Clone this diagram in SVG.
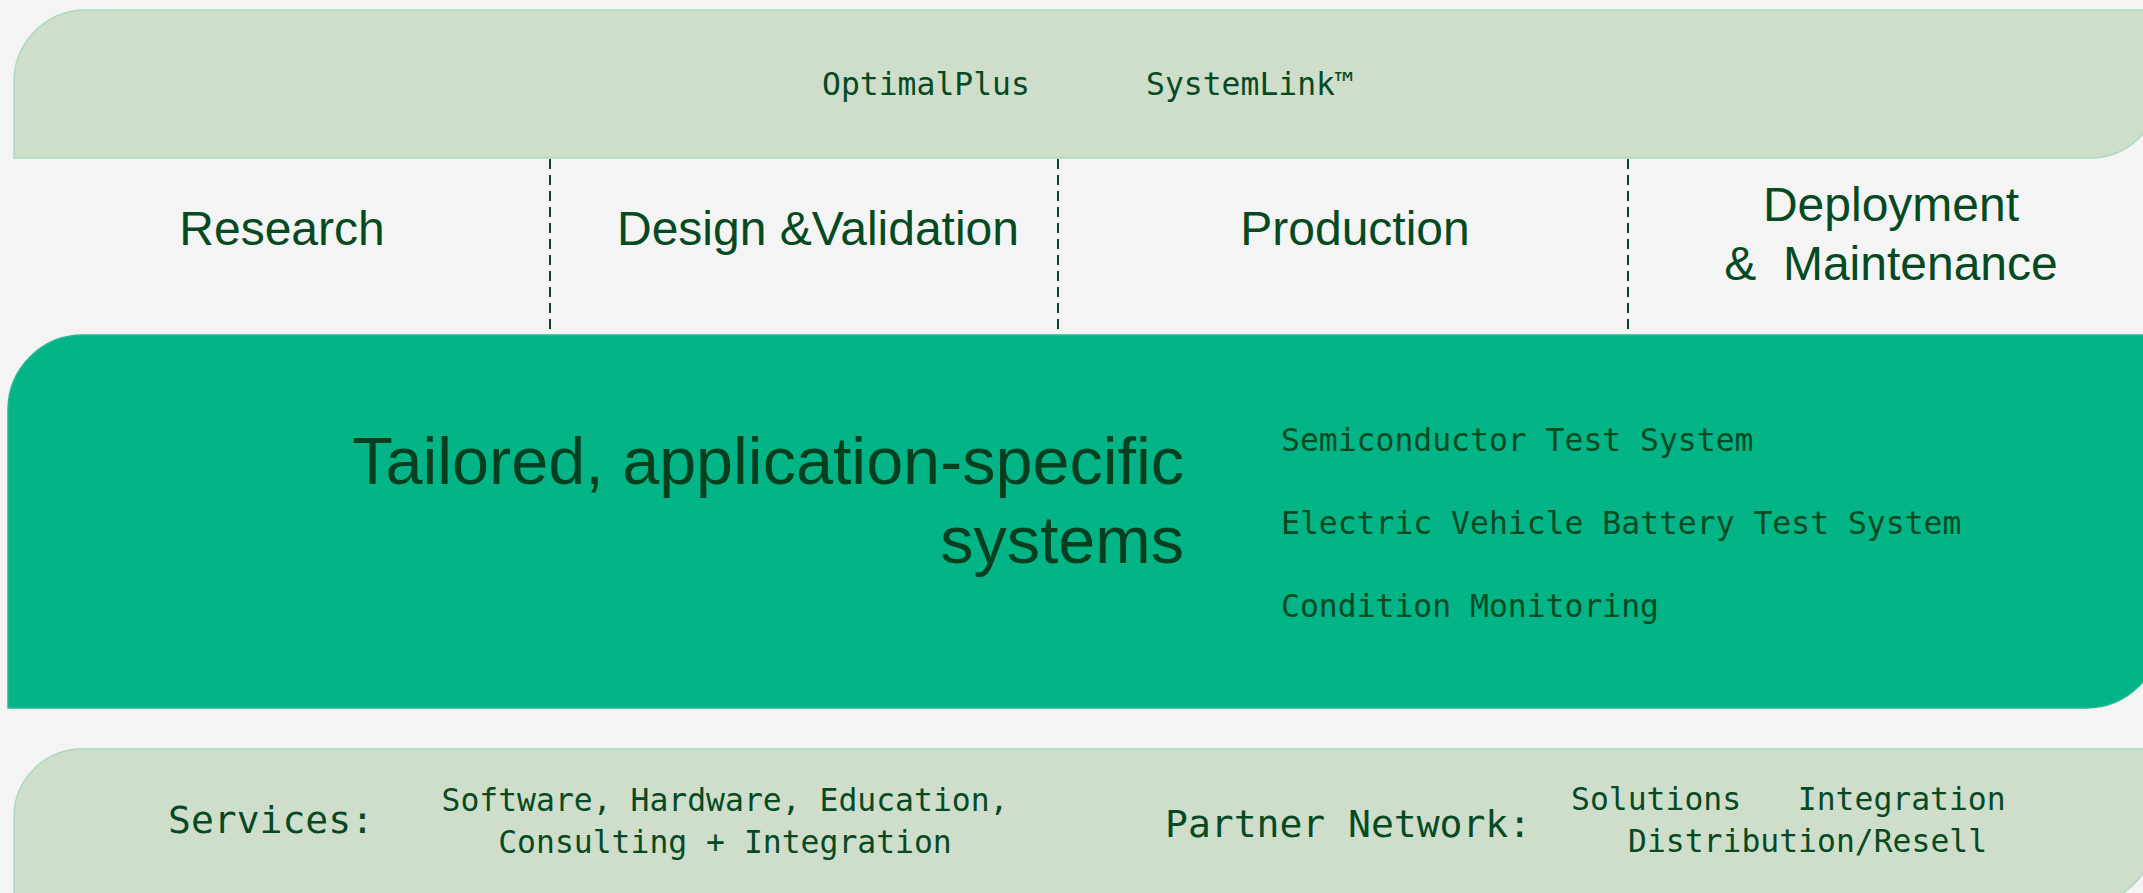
<svg xmlns="http://www.w3.org/2000/svg" width="2143" height="893" viewBox="0 0 2143 893">
  <style>
    .light { fill: #cfdeca; stroke: #a9d9bd; stroke-width: 1.5; }
    .main { fill: #03b487; stroke: #1fbb90; stroke-width: 1.5; }
    .sans { font-family: "Liberation Sans", Arial, sans-serif; fill: #064a23; }
    .hdr { font-size: 48px; text-anchor: middle; }
    .big { font-size: 66.5px; text-anchor: end; fill: #053f1f; }
    .mono { font-family: "DejaVu Sans Mono", "Liberation Mono", monospace; fill: #064a23; font-size: 31.4px; }
    .monoL { font-family: "DejaVu Sans Mono", "Liberation Mono", monospace; fill: #064a23; font-size: 38px; }
    .div { stroke: #0b4425; stroke-width: 2; stroke-dasharray: 10 6; fill: none; }
  </style>
  <rect x="0" y="0" width="2143" height="893" fill="#f4f4f4"/>

  <g id="software-band">
    <path class="light" d="M14,158 L14,82 A72,72 0 0 1 86,10 L2160,10 L2160,88 A70,70 0 0 1 2090,158 Z"/>
    <text class="mono" x="822" y="95">OptimalPlus</text>
    <text class="mono" x="1146" y="95">SystemLink™</text>
  </g>

  <g id="connectors">
    <line class="div" x1="550" y1="159" x2="550" y2="334"/>
    <line class="div" x1="1058" y1="159" x2="1058" y2="334"/>
    <line class="div" x1="1628" y1="159" x2="1628" y2="334"/>
  </g>

  <g id="phase-research">
    <text class="sans hdr" x="282" y="245">Research</text>
  </g>
  <g id="phase-design">
    <text class="sans hdr" x="818" y="245">Design &amp;Validation</text>
  </g>
  <g id="phase-production">
    <text class="sans hdr" x="1355" y="245">Production</text>
  </g>
  <g id="phase-deployment">
    <text class="sans hdr" x="1891" y="221">Deployment</text>
    <text class="sans hdr" x="1891" y="280" xml:space="preserve">&amp;  Maintenance</text>
  </g>

  <g id="systems-band">
    <path class="main" d="M8,708 L8,410 A75,75 0 0 1 83,335 L2161,335 L2161,633 A75,75 0 0 1 2086,708 Z"/>
    <text class="sans big" x="1184" y="484">Tailored, application-specific</text>
    <text class="sans big" x="1184" y="563">systems</text>
    <text class="mono" x="1281" y="451">Semiconductor Test System</text>
    <text class="mono" x="1281" y="534">Electric Vehicle Battery Test System</text>
    <text class="mono" x="1281" y="617">Condition Monitoring</text>
  </g>

  <g id="services-band">
    <path class="light" d="M14,903 L14,817 A68,68 0 0 1 82,749 L2153,749 L2153,838 A65,65 0 0 1 2088,903 Z"/>
    <text class="monoL" x="168" y="833">Services:</text>
    <text class="mono" x="725" y="811" text-anchor="middle">Software, Hardware, Education,</text>
    <text class="mono" x="725" y="853" text-anchor="middle">Consulting + Integration</text>
    <text class="monoL" x="1165" y="837">Partner Network:</text>
    <text class="mono" x="1571" y="810" xml:space="preserve">Solutions   Integration</text>
    <text class="mono" x="1628" y="852">Distribution/Resell</text>
  </g>
</svg>
